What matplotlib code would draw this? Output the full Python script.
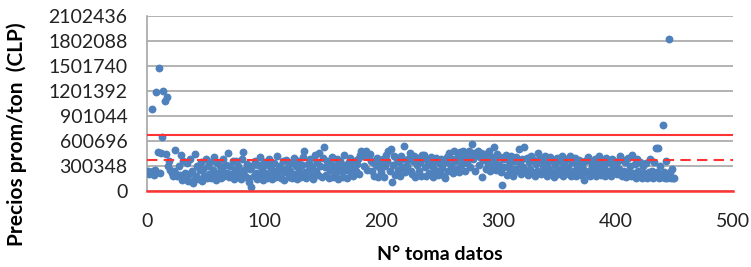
import matplotlib
matplotlib.use("Agg")
import matplotlib.pyplot as plt

# precio promedio por tonelada (miles de CLP), toma 1..450
precios_k = [
    230, 195, 215, 981, 240, 190, 250, 1187, 460, 1473, 205, 455, 648, 1204, 1076, 440, 1124, 300, 360, 250, 210, 180, 230, 490, 200,
    170, 300, 190, 422, 130, 360, 210, 150, 330, 120, 200, 380, 230, 86, 130, 434, 170, 300, 140, 250, 340, 110, 260, 170, 380,
    150, 290, 200, 340, 145, 250, 400, 170, 130, 330, 210, 300, 150, 260, 380, 170, 310, 210, 450, 160, 290, 200, 350, 140, 250,
    360, 170, 300, 210, 140, 380, 461, 250, 180, 320, 150, 99, 260, 45, 300, 170, 350, 210, 140, 310, 400, 190, 260, 130, 340,
    210, 150, 310, 380, 170, 260, 140, 330, 230, 160, 420, 190, 300, 150, 260, 350, 130, 220, 370, 280, 160, 240, 330, 150, 390,
    200, 290, 140, 360, 240, 160, 310, 400, 473, 220, 150, 320, 250, 380, 170, 290, 140, 430, 230, 340, 190, 446, 300, 160, 390,
    521, 280, 190, 350, 150, 250, 320, 400, 160, 300, 210, 380, 140, 280, 350, 230, 160, 430, 310, 250, 150, 340, 390, 210, 300,
    170, 360, 240, 320, 380, 200, 430, 470, 410, 300, 460, 480, 250, 420, 440, 350, 230, 340, 180, 310, 390, 160, 280, 330, 220,
    380, 160, 300, 422, 350, 480, 230, 502, 105, 310, 420, 190, 380, 250, 340, 170, 410, 280, 541, 220, 370, 300, 380, 450, 240,
    200, 360, 410, 160, 310, 390, 230, 340, 180, 430, 422, 280, 170, 370, 320, 210, 400, 300, 160, 350, 250, 390, 190, 330, 240,
    380, 270, 180, 145, 340, 400, 230, 450, 290, 380, 210, 470, 350, 260, 420, 220, 460, 310, 380, 480, 240, 440, 330, 400, 470,
    280, 561, 380, 450, 230, 430, 480, 310, 400, 450, 164, 370, 440, 260, 420, 330, 470, 230, 400, 300, 521, 370, 250, 440, 310,
    400, 220, 65, 380, 280, 430, 190, 370, 300, 240, 420, 180, 350, 260, 400, 230, 502, 320, 200, 380, 280, 521, 240, 390, 190,
    340, 260, 410, 210, 370, 170, 320, 240, 450, 380, 200, 350, 280, 220, 420, 180, 340, 260, 400, 210, 370, 160, 310, 240, 390,
    200, 350, 260, 410, 170, 320, 230, 380, 280, 200, 420, 180, 340, 240, 390, 170, 300, 220, 370, 190, 320, 260, 125, 350, 210,
    400, 240, 180, 340, 280, 220, 380, 170, 320, 260, 420, 190, 350, 220, 300, 180, 390, 240, 340, 200, 170, 380, 280, 220, 330,
    200, 350, 260, 410, 180, 363, 240, 340, 160, 390, 220, 300, 170, 430, 210, 320, 150, 380, 240, 190, 340, 150, 290, 210, 170,
    330, 150, 220, 380, 160, 230, 150, 340, 514, 220, 514, 150, 290, 160, 791, 220, 150, 360, 150, 1822, 220, 150, 260, 150, 150,
]
tomas = list(range(1, len(precios_k) + 1))
precios = [v * 1000 for v in precios_k]

# limites de control (CLP)
lsc = 672000
media = 363000
lic = 0

yticks = [0, 300348, 600696, 901044, 1201392, 1501740, 1802088, 2102436]
xticks = [0, 100, 200, 300, 400, 500]

plt.rcParams['font.family'] = ['Lato', 'DejaVu Sans']

fig = plt.figure(figsize=(7.51, 2.67), dpi=100)
ax = fig.add_axes([147 / 751, 1 - 190.5 / 267, (733 - 147) / 751, (190.5 - 16) / 267])

ax.scatter(tomas, precios, s=32, color='#4F81BD', linewidths=0, zorder=3)

ax.axhline(lsc, color='#FF3333', lw=1.5, zorder=4)
ax.axhline(media, color='#FF3333', lw=1.5, ls=(0, (5, 3)), zorder=4)
ax.axhline(lic, color='#FF3333', lw=1.8, zorder=4, clip_on=False)

ax.set_xlim(0, 500)
ax.set_ylim(0, yticks[-1])
ax.set_xticks(xticks)
ax.set_yticks(yticks)
ax.set_yticklabels([str(t) for t in yticks])
ax.grid(axis='y', color='#A6A6A6', lw=1.2, zorder=0)
ax.set_axisbelow(True)

for s in ['top', 'right', 'bottom']:
    ax.spines[s].set_visible(False)
ax.spines['left'].set_color('#A6A6A6')
ax.spines['left'].set_linewidth(1.2)

ax.tick_params(axis='both', length=0, labelsize=14, colors='#222222')
ax.tick_params(axis='y', pad=14)
ax.tick_params(axis='x', pad=16)

ax.set_xlabel('N° toma datos', fontsize=14, fontweight='bold', labelpad=12)
ax.set_ylabel('Precios prom/ton  (CLP)', fontsize=15, fontweight='bold')
ax.yaxis.set_label_coords(-0.205, 0.32)

fig.savefig('out.png', dpi=100)
